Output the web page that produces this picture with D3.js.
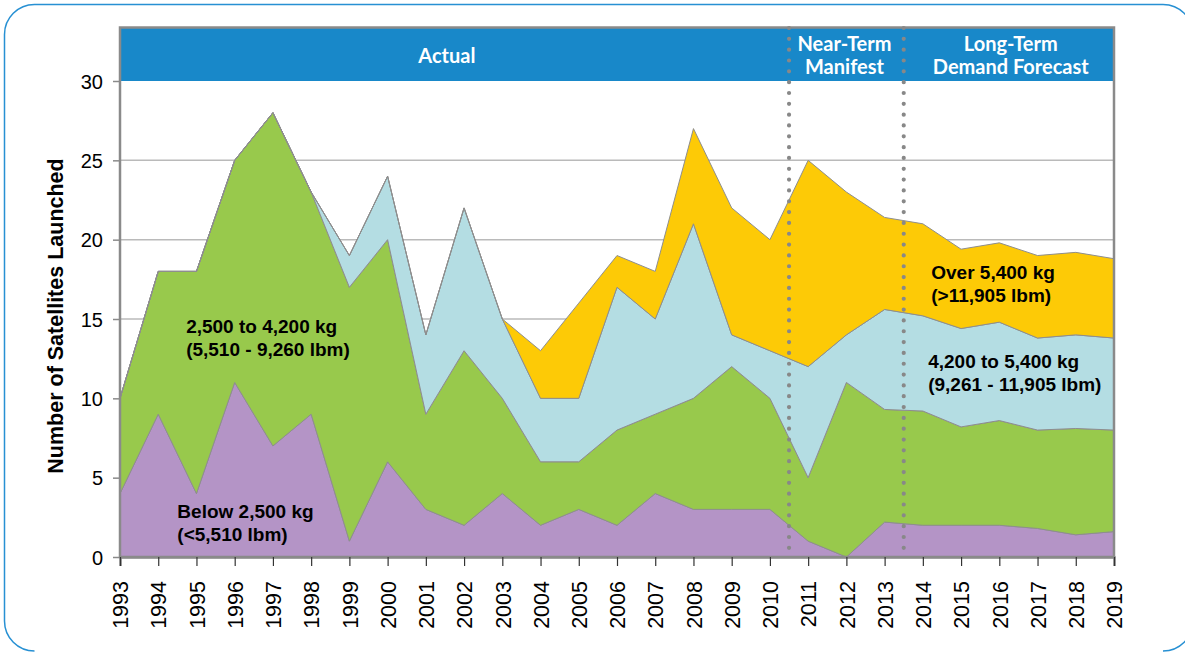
<!DOCTYPE html>
<html>
<head>
<meta charset="utf-8">
<script src="https://cdn.jsdelivr.net/npm/d3@7"></script>
<style>
  html, body { margin: 0; padding: 0; background: #fff; }
  svg { display: block; }
</style>
</head>
<body>
<svg id="chart" width="1185" height="652"></svg>
<script>
// ---------- data ----------
const years = [1993,1994,1995,1996,1997,1998,1999,2000,2001,2002,2003,2004,2005,2006,2007,2008,2009,2010,2011,2012,2013,2014,2015,2016,2017,2018,2019];
const below2500 = [4,9,4,11,7,9,1,6,3,2,4,2,3,2,4,3,3,3,1,0,2.2,2.0,2.0,2.0,1.8,1.4,1.6];
const from2500to4200 = [6,9,14,14,21,14,16,14,6,11,6,4,3,6,5,7,9,7,4,11,7.1,7.2,6.2,6.6,6.2,6.7,6.4];
const from4200to5400 = [0,0,0,0,0,0,2,4,5,9,5,4,4,9,6,11,2,3,7,3,6.3,6.0,6.2,6.2,5.8,5.9,5.8];
const over5400 = [0,0,0,0,0,0,0,0,0,0,0,3,6,2,3,6,8,7,13,9,5.8,5.8,5.0,5.0,5.2,5.2,5.0];
const yTicks = [0,5,10,15,20,25,30];
const seriesKeys = ["below","mid","upper","over"];
const seriesColors = ["#b494c6","#98c94c","#b4dde3","#fdca06"];
const periodBounds = [1993, 2010.5, 2013.5, 2019];
const periodLabels = [
  {lines:["Actual"], at:2001.55},
  {lines:["Near-Term","Manifest"], at:2011.95},
  {lines:["Long-Term","Demand Forecast"], at:2016.3}
];
const seriesLabels = [
  {lines:["2,500 to 4,200 kg","(5,510 - 9,260 lbm)"], year:1994.73, value:14.12},
  {lines:["Below 2,500 kg","(<5,510 lbm)"], year:1994.5, value:2.47},
  {lines:["Over 5,400 kg","(>11,905 lbm)"], year:2014.22, value:17.55},
  {lines:["4,200 to 5,400 kg","(9,261 - 11,905 lbm)"], year:2014.14, value:11.9}
];

(function () {
// ---------- layout ----------
const svg = d3.select("#chart");
const pL = 120, pR = 1114, pT = 28, pB = 557;
const x = d3.scaleLinear().domain([1993, 2019]).range([pL, pR]);
const y = d3.scaleLinear().domain([0, 30]).range([pB, 81]);

// outer frame (no bottom straight edge)
const r = 30, fx0 = 4.5, fy0 = 4.5, fx1 = 1193, fy1 = 651;
svg.append("path")
  .attr("d", `M${fx0+r},${fy1} A${r},${r} 0 0 1 ${fx0},${fy1-r} L${fx0},${fy0+r} A${r},${r} 0 0 1 ${fx0+r},${fy0} L${fx1-r},${fy0} A${r},${r} 0 0 1 ${fx1},${fy0+r} L${fx1},${fy1-r} A${r},${r} 0 0 1 ${fx1-r},${fy1}`)
  .attr("fill","none").attr("stroke","#2790d3").attr("stroke-width",1.5);

// header band
svg.append("rect").attr("x", pL).attr("y", pT).attr("width", pR-pL).attr("height", y(30)-pT)
  .attr("fill", "#1888c9");

// gridlines
svg.append("g").selectAll("line").data(yTicks.filter(d => d > 0 && d < 30)).join("line")
  .attr("x1", pL).attr("x2", pR).attr("y1", d => y(d)).attr("y2", d => y(d))
  .attr("stroke", "#bababa").attr("stroke-width", 1.5);

// stacked areas
const table = years.map((yr, i) => ({year: yr, below: below2500[i], mid: from2500to4200[i], upper: from4200to5400[i], over: over5400[i]}));
const stacked = d3.stack().keys(seriesKeys)(table);
const area = d3.area().x(d => x(d.data.year)).y0(d => y(d[0])).y1(d => y(d[1]));
svg.append("g").selectAll("path").data(stacked).join("path")
  .attr("d", area)
  .attr("fill", (d, i) => seriesColors[i])
  .attr("stroke", "#8e8e8e").attr("stroke-width", 1).attr("stroke-linejoin","miter");

// plot frame
svg.append("rect").attr("x", pL).attr("y", pT-0.5).attr("width", pR-pL).attr("height", pB-pT+0.5)
  .attr("fill","none").attr("stroke","#8a8a8a").attr("stroke-width",2.5);

// header labels
const hdr = svg.append("g").attr("font-family","Lato, 'Open Sans', sans-serif").attr("font-weight","bold")
  .attr("font-size","20px").attr("fill","#fff").attr("text-anchor","middle");
periodLabels.forEach(p => {
  const t = hdr.append("text").attr("x", x(p.at)).attr("y", p.lines.length === 1 ? 63 : 50.5);
  p.lines.forEach((ln, i) => t.append("tspan").attr("x", x(p.at)).attr("dy", i === 0 ? 0 : 23.5).text(ln));
});

// dotted separators
svg.append("g").selectAll("line").data(periodBounds.slice(1, 3)).join("line")
  .attr("x1", d => x(d)).attr("x2", d => x(d)).attr("y1", pT).attr("y2", 548)
  .attr("stroke", "#888").attr("stroke-width", 4.2).attr("stroke-linecap","round")
  .attr("stroke-dasharray", "0 10.83");

// y axis
const yAxis = svg.append("g").attr("transform", `translate(${pL},0)`)
  .call(d3.axisLeft(y).tickValues(yTicks).tickSize(7).tickPadding(10).tickFormat(d3.format("d")));
yAxis.select(".domain").remove();
yAxis.selectAll(".tick line").attr("stroke","#8a8a8a").attr("stroke-width",1.5);
yAxis.selectAll(".tick text").attr("font-family","Arial, 'Liberation Sans', sans-serif").attr("font-size","20px").attr("fill","#000").attr("dy","0.36em");

// x axis
const xAxis = svg.append("g").attr("transform", `translate(0,${pB})`)
  .call(d3.axisBottom(x).tickValues(years).tickSize(9).tickFormat(d3.format("d")));
xAxis.select(".domain").attr("stroke","#8a8a8a").attr("stroke-width",2.5);
xAxis.selectAll(".tick line").attr("stroke","#333").attr("stroke-width",1.2);
xAxis.selectAll(".tick text")
  .attr("font-family","Arial, 'Liberation Sans', sans-serif").attr("font-size","21.5px").attr("fill","#000")
  .attr("text-anchor","end").attr("transform","rotate(-90)")
  .attr("x", -24).attr("y", 0).attr("dy","0.36em");

// y axis title
svg.append("text").attr("transform", `translate(63,316) rotate(-90)`)
  .attr("text-anchor","middle").attr("font-family","Arial, 'Liberation Sans', sans-serif")
  .attr("font-weight","bold").attr("font-size","21.5px").attr("fill","#000")
  .text("Number of Satellites Launched");

// series labels
const lbl = svg.append("g").attr("font-family","Arial, 'Liberation Sans', sans-serif").attr("font-weight","bold")
  .attr("font-size","19px").attr("fill","#000");
seriesLabels.forEach(s => {
  const t = lbl.append("text").attr("x", x(s.year)).attr("y", y(s.value));
  s.lines.forEach((ln, i) => t.append("tspan").attr("x", x(s.year)).attr("dy", i === 0 ? 0 : 23).text(ln));
});
})();
</script>
</body>
</html>
